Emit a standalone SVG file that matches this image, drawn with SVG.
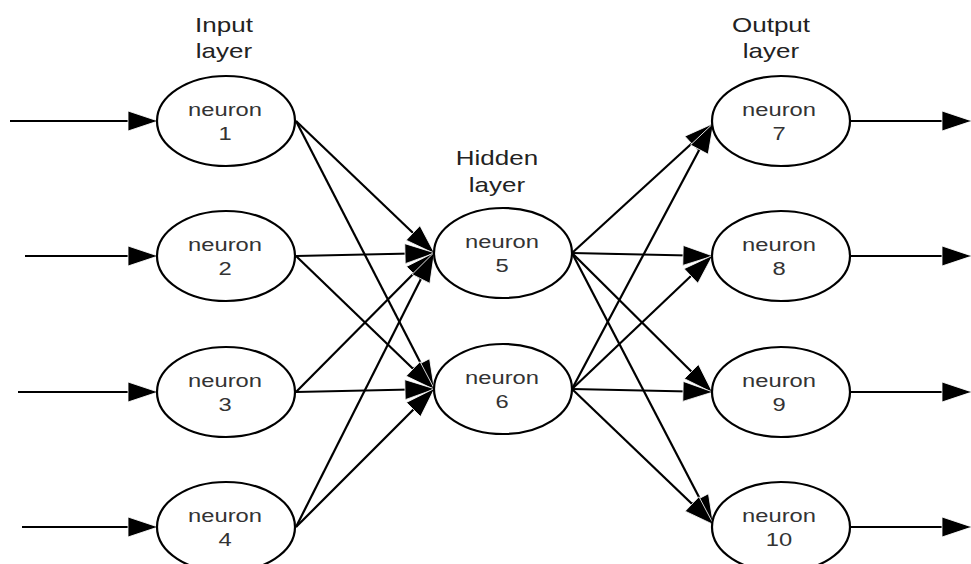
<svg xmlns="http://www.w3.org/2000/svg" width="971" height="564" viewBox="0 0 971 564">
  <style>
    .node ellipse { fill: #fff; stroke: #000; stroke-width: 2.2; }
    .lbl { font-family: "Liberation Sans", Arial, sans-serif; font-size: 18px; fill: #333; text-anchor: middle; }
    .hdr { font-family: "Liberation Sans", Arial, sans-serif; font-size: 20px; fill: #222; text-anchor: middle; }
    #connectors line { stroke: #000; stroke-width: 2.2; marker-end: url(#arrow); }
  </style>
  <defs>
    <marker id="arrow" markerUnits="userSpaceOnUse" markerWidth="32" markerHeight="22" refX="29" refY="10" orient="auto" overflow="visible">
      <path d="M0,0 L30,10 L0,20 z" fill="#000" stroke="#fff" stroke-width="0.8" stroke-linejoin="miter"/>
    </marker>
  </defs>

  <!-- layer headings -->
  <g id="headings">
    <text class="hdr" transform="translate(224,32) scale(1.3,1)">Input</text>
    <text class="hdr" transform="translate(224,58) scale(1.3,1)">layer</text>
    <text class="hdr" transform="translate(497,165) scale(1.3,1)">Hidden</text>
    <text class="hdr" transform="translate(497,192) scale(1.3,1)">layer</text>
    <text class="hdr" transform="translate(771,32) scale(1.3,1)">Output</text>
    <text class="hdr" transform="translate(771,58) scale(1.3,1)">layer</text>
  </g>

  <!-- connectors -->
  <g id="connectors">
    <!-- external inputs -->
    <line x1="10" y1="121" x2="157" y2="121"/>
    <line x1="25" y1="256" x2="157" y2="256"/>
    <line x1="18" y1="392" x2="157" y2="392"/>
    <line x1="22" y1="527" x2="157" y2="527"/>
    <!-- input to hidden -->
    <line x1="296" y1="121" x2="434" y2="253"/>
    <line x1="296" y1="121" x2="434" y2="389"/>
    <line x1="296" y1="256" x2="434" y2="253"/>
    <line x1="296" y1="256" x2="434" y2="389"/>
    <line x1="296" y1="392" x2="434" y2="253"/>
    <line x1="296" y1="392" x2="434" y2="389"/>
    <line x1="296" y1="527" x2="434" y2="253"/>
    <line x1="296" y1="527" x2="434" y2="389"/>
    <!-- hidden to output -->
    <line x1="572" y1="253" x2="713" y2="124"/>
    <line x1="572" y1="253" x2="712" y2="256"/>
    <line x1="572" y1="253" x2="712" y2="392"/>
    <line x1="572" y1="253" x2="713" y2="524"/>
    <line x1="572" y1="389" x2="713" y2="124"/>
    <line x1="572" y1="389" x2="712" y2="256"/>
    <line x1="572" y1="389" x2="712" y2="392"/>
    <line x1="572" y1="389" x2="713" y2="524"/>
    <!-- external outputs -->
    <line x1="850" y1="121" x2="971" y2="121"/>
    <line x1="850" y1="256" x2="971" y2="256"/>
    <line x1="850" y1="392" x2="971" y2="392"/>
    <line x1="850" y1="527" x2="971" y2="527"/>
  </g>

  <!-- input layer -->
  <g id="n1" class="node">
    <ellipse cx="226" cy="121" rx="69" ry="45"/>
    <text class="lbl" transform="translate(225,116) scale(1.32,1)">neuron</text>
    <text class="lbl" transform="translate(225,140) scale(1.32,1)">1</text>
  </g>
  <g id="n2" class="node">
    <ellipse cx="226" cy="256" rx="69" ry="45"/>
    <text class="lbl" transform="translate(225,251) scale(1.32,1)">neuron</text>
    <text class="lbl" transform="translate(225,275) scale(1.32,1)">2</text>
  </g>
  <g id="n3" class="node">
    <ellipse cx="226" cy="392" rx="69" ry="45"/>
    <text class="lbl" transform="translate(225,387) scale(1.32,1)">neuron</text>
    <text class="lbl" transform="translate(225,411) scale(1.32,1)">3</text>
  </g>
  <g id="n4" class="node">
    <ellipse cx="226" cy="527" rx="69" ry="45"/>
    <text class="lbl" transform="translate(225,522) scale(1.32,1)">neuron</text>
    <text class="lbl" transform="translate(225,546) scale(1.32,1)">4</text>
  </g>

  <!-- hidden layer -->
  <g id="n5" class="node">
    <ellipse cx="503" cy="253" rx="69" ry="45"/>
    <text class="lbl" transform="translate(502,248) scale(1.32,1)">neuron</text>
    <text class="lbl" transform="translate(502,272) scale(1.32,1)">5</text>
  </g>
  <g id="n6" class="node">
    <ellipse cx="503" cy="389" rx="69" ry="45"/>
    <text class="lbl" transform="translate(502,384) scale(1.32,1)">neuron</text>
    <text class="lbl" transform="translate(502,408) scale(1.32,1)">6</text>
  </g>

  <!-- output layer -->
  <g id="n7" class="node">
    <ellipse cx="781" cy="121" rx="69" ry="45"/>
    <text class="lbl" transform="translate(779,116) scale(1.32,1)">neuron</text>
    <text class="lbl" transform="translate(779,140) scale(1.32,1)">7</text>
  </g>
  <g id="n8" class="node">
    <ellipse cx="781" cy="256" rx="69" ry="45"/>
    <text class="lbl" transform="translate(779,251) scale(1.32,1)">neuron</text>
    <text class="lbl" transform="translate(779,275) scale(1.32,1)">8</text>
  </g>
  <g id="n9" class="node">
    <ellipse cx="781" cy="392" rx="69" ry="45"/>
    <text class="lbl" transform="translate(779,387) scale(1.32,1)">neuron</text>
    <text class="lbl" transform="translate(779,411) scale(1.32,1)">9</text>
  </g>
  <g id="n10" class="node">
    <ellipse cx="781" cy="527" rx="69" ry="45"/>
    <text class="lbl" transform="translate(779,522) scale(1.32,1)">neuron</text>
    <text class="lbl" transform="translate(779,546) scale(1.32,1)">10</text>
  </g>
</svg>
